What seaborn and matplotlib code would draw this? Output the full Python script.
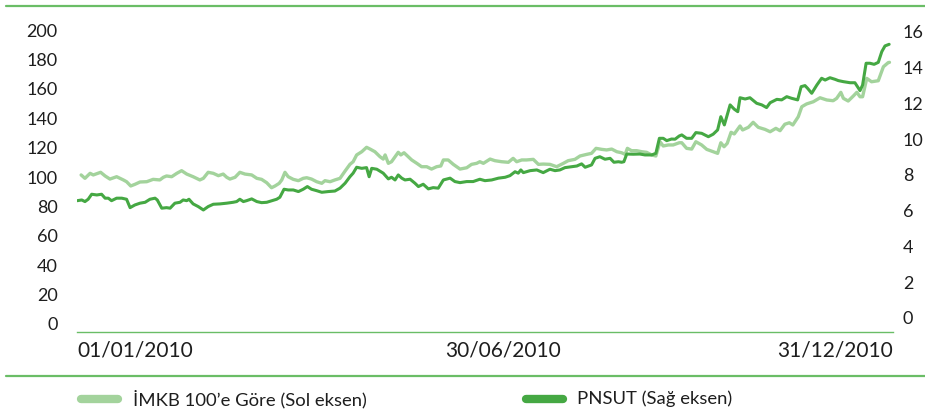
import numpy as np
import pandas as pd
import matplotlib.pyplot as plt
import matplotlib.transforms as mtransforms
from matplotlib.lines import Line2D
import seaborn as sns

# ── Data (gün indeksi, 0 = 01/01/2010, 255 = 31/12/2010) ──────
imkb_gun = [1.3, 2.5, 4.1, 5.1, 7.4, 8.8, 10.3, 12.4, 14.5, 15.5, 16.8, 18.1, 19.7,
            21.8, 23.8, 25.9, 27.0, 28.0, 29.6, 31.2, 32.7, 34.3, 36.3, 38.4, 39.5,
            41.0, 42.6, 44.2, 45.7, 46.8, 47.8, 49.4, 50.9, 52.5, 54.6, 56.2, 57.7,
            59.3, 60.8, 61.9, 63.2, 64.0, 65.0, 66.0, 67.6, 69.2, 70.7, 71.8, 73.3,
            74.9, 76.5, 77.5, 79.1, 80.6, 82.2, 83.8, 85.3, 86.3, 87.4, 89.0, 90.5,
            91.6, 93.1, 94.7, 95.7, 96.3, 97.3, 98.3, 99.4, 100.4, 101.2, 102.2,
            103.5, 104.6, 106.2, 107.7, 109.3, 110.8, 112.4, 113.7, 114.5, 116.0,
            117.6, 119.7, 121.8, 123.3, 124.9, 125.9, 127.0, 129.1, 130.6, 132.7,
            134.8, 136.3, 137.4, 139.0, 140.5, 142.6, 144.2, 145.7, 147.8, 149.9,
            152.0, 153.5, 155.6, 157.2, 159.3, 160.8, 162.2, 164.0, 165.5, 167.1,
            168.7, 170.2, 171.3, 172.0, 173.3, 174.9, 176.5, 178.0, 179.6, 180.9,
            182.2, 183.2, 184.8, 186.3, 188.2, 189.0, 190.5, 192.1, 193.4, 195.2,
            196.8, 198.8, 200.2, 201.2, 202.2, 203.2, 204.4, 205.4, 207.2, 208.0,
            209.8, 211.3, 212.9, 215.0, 216.6, 218.4, 219.7, 221.2, 222.6, 223.7,
            225.4, 226.5, 228.0, 230.1, 232.2, 234.3, 236.3, 237.4, 238.7, 239.5,
            241.0, 242.6, 243.7, 244.7, 245.5, 246.8, 248.3, 250.4, 252.0, 253.5,
            253.9]
imkb_deger = [101.4, 99.1, 102.5, 101.4, 103.2, 100.7, 98.6, 100.2, 98.0, 96.8, 93.9,
              95.0, 96.6, 96.8, 98.4, 98.0, 99.8, 100.7, 100.2, 102.5, 104.3, 102.0,
              100.2, 98.0, 99.1, 103.2, 102.5, 100.9, 102.0, 99.8, 98.6, 99.8, 103.2,
              102.0, 101.4, 99.1, 98.4, 96.1, 92.7, 93.9, 95.7, 98.0, 103.2, 100.2,
              98.4, 97.5, 99.1, 99.5, 98.6, 96.8, 95.7, 97.5, 96.8, 98.0, 99.1, 104.1,
              108.6, 110.4, 115.0, 117.2, 120.2, 119.0, 117.2, 113.8, 112.2, 115.0,
              109.3, 110.4, 113.8, 116.8, 115.0, 116.5, 113.8, 111.6, 109.3, 107.0,
              107.0, 105.4, 107.0, 107.5, 111.6, 111.6, 108.6, 105.4, 106.3, 108.6,
              109.3, 110.4, 109.3, 112.2, 111.1, 110.4, 110.0, 112.7, 110.4, 111.6,
              111.6, 112.0, 108.6, 108.8, 108.6, 107.0, 109.3, 111.1, 112.0, 114.3,
              115.4, 116.1, 119.5, 118.8, 118.4, 119.0, 117.2, 116.5, 115.4, 119.5,
              117.9, 117.9, 117.2, 116.8, 115.0, 114.3, 124.0, 121.1, 121.8, 121.8,
              123.3, 123.3, 119.5, 119.0, 124.0, 121.8, 118.8, 117.2, 116.1, 123.3,
              120.6, 122.9, 130.4, 129.3, 134.7, 132.0, 133.8, 137.2, 133.8, 132.4,
              130.8, 133.1, 131.5, 135.9, 136.9, 135.4, 141.0, 147.8, 149.7, 151.2,
              153.9, 152.4, 151.9, 153.5, 157.6, 153.5, 151.7, 155.1, 157.6, 154.6,
              154.6, 167.1, 164.8, 165.5, 175.0, 177.8, 178.0]

pnsut_gun = [0.1, 1.5, 2.5, 3.5, 4.6, 6.2, 7.7, 8.8, 9.8, 10.8, 12.4, 14.0, 15.5,
             16.6, 18.1, 19.7, 21.3, 22.8, 24.4, 25.1, 26.5, 28.0, 29.1, 30.6, 32.2,
             33.2, 34.3, 35.0, 36.3, 37.9, 39.5, 41.0, 42.6, 44.7, 46.8, 48.8, 49.9,
             50.9, 52.0, 53.0, 54.6, 56.2, 57.7, 59.3, 60.8, 62.4, 63.4, 64.7, 66.0,
             67.6, 69.2, 70.7, 72.0, 73.3, 74.9, 76.5, 78.5, 80.6, 82.2, 83.8, 85.3,
             86.3, 87.4, 89.0, 90.5, 91.3, 92.1, 93.7, 95.7, 97.3, 98.3, 99.4, 100.4,
             101.5, 102.5, 104.1, 105.6, 106.7, 108.2, 109.8, 111.3, 112.9, 114.5,
             116.6, 118.1, 119.7, 121.8, 123.8, 125.9, 127.5, 129.6, 131.7, 133.8,
             135.3, 136.9, 137.9, 138.7, 139.5, 141.6, 143.7, 145.7, 147.8, 149.4,
             150.9, 152.5, 154.6, 156.2, 157.7, 158.8, 160.8, 161.9, 163.4, 165.0,
             166.6, 167.8, 169.2, 170.2, 170.9, 171.8, 173.8, 175.9, 177.5, 179.6,
             180.9, 182.0, 183.2, 184.3, 185.8, 186.9, 188.2, 189.0, 190.5, 192.1,
             193.4, 195.2, 197.3, 198.8, 200.2, 201.2, 202.3, 204.1, 205.4, 206.5,
             207.2, 208.8, 210.3, 212.4, 214.0, 215.5, 216.6, 218.7, 220.2, 221.8,
             223.3, 225.2, 226.3, 227.5, 228.3, 229.6, 231.2, 232.7, 233.8, 235.3,
             236.9, 237.9, 239.5, 241.6, 243.1, 244.7, 245.5, 246.6, 247.8, 249.1,
             250.4, 251.5, 252.5, 253.8]
pnsut_deger = [6.56, 6.60, 6.51, 6.64, 6.92, 6.88, 6.92, 6.70, 6.70, 6.56, 6.70, 6.70,
               6.64, 6.17, 6.32, 6.42, 6.47, 6.64, 6.70, 6.60, 6.14, 6.17, 6.14, 6.42,
               6.47, 6.60, 6.56, 6.64, 6.38, 6.23, 6.04, 6.23, 6.36, 6.38, 6.42, 6.47,
               6.51, 6.64, 6.51, 6.56, 6.66, 6.51, 6.45, 6.47, 6.55, 6.64, 6.75, 7.20,
               7.16, 7.16, 7.07, 7.20, 7.35, 7.20, 7.12, 7.03, 7.07, 7.10, 7.26, 7.54,
               7.90, 8.10, 8.43, 8.37, 8.41, 7.90, 8.37, 8.32, 8.10, 7.78, 7.87, 7.72,
               8.00, 7.82, 7.72, 7.76, 7.54, 7.35, 7.48, 7.22, 7.29, 7.26, 7.72, 7.82,
               7.63, 7.57, 7.63, 7.63, 7.76, 7.68, 7.72, 7.82, 7.87, 7.96, 8.18, 8.10,
               8.28, 8.13, 8.24, 8.28, 8.13, 8.32, 8.24, 8.28, 8.41, 8.46, 8.50, 8.62,
               8.43, 8.56, 8.93, 9.02, 8.88, 8.93, 8.71, 8.74, 8.71, 8.74, 9.17, 9.16,
               9.17, 9.12, 9.12, 9.21, 10.05, 10.05, 9.92, 10.01, 10.00, 10.18, 10.24,
               10.05, 10.05, 10.37, 10.33, 10.14, 10.28, 10.52, 11.26, 10.80, 11.92,
               11.68, 11.54, 12.32, 12.25, 12.32, 12.01, 11.92, 11.77, 12.04, 12.23,
               12.20, 12.38, 12.29, 12.20, 12.94, 13.00, 12.85, 12.57, 13.03, 13.41,
               13.31, 13.44, 13.35, 13.28, 13.22, 13.16, 13.16, 12.72, 13.03, 14.25,
               14.25, 14.19, 14.30, 14.90, 15.22, 15.31]

x_tick_pos = [0, 133, 255]
x_tick_labels = ['01/01/2010', '30/06/2010', '31/12/2010']
sol_ticks = list(range(0, 201, 20))
sag_ticks = list(range(0, 17, 2))
seri_adlari = ["İMKB 100’e Göre (Sol eksen)", "PNSUT (Sağ eksen)"]

# ── Style ────────────────────────────────────────────────────
sns.set_theme(style="white")
plt.rcParams['font.family'] = ['Lato', 'DejaVu Sans']

ACIK = '#a3d39c'
KOYU = '#45a843'
CIZGI = '#6abd66'
YAZI = '#1e1e1e'

imkb = pd.DataFrame({'gun': imkb_gun, 'deger': imkb_deger})
pnsut = pd.DataFrame({'gun': pnsut_gun, 'deger': pnsut_deger})

fig = plt.figure(figsize=(9.25, 4.18), dpi=100)
ax = fig.add_axes([0.0832, 0.2249, 0.8822, 0.7033])
ax2 = ax.twinx()

sns.lineplot(data=imkb, x='gun', y='deger', ax=ax, color=ACIK, linewidth=2.4)
sns.lineplot(data=pnsut, x='gun', y='deger', ax=ax2, color=KOYU, linewidth=2.2)

ax.set_xlim(0, 255)
ax.set_ylim(0, 200)
ax2.set_ylim(-0.34, 16.11)
ax.set_yticks(sol_ticks)
ax2.set_yticks(sag_ticks)
ax.set_xlabel('')
ax.set_ylabel('')
ax2.set_ylabel('')

for a in (ax, ax2):
    for s in ('top', 'left', 'right'):
        a.spines[s].set_visible(False)
ax2.spines['bottom'].set_visible(False)
ax.spines['bottom'].set_position(('outward', 5.8))
ax.spines['bottom'].set_color(CIZGI)
ax.spines['bottom'].set_linewidth(1.0)

ax.set_xticks(x_tick_pos)
ax.set_xticklabels(x_tick_labels)
# first label a bit left of its tick, last label a bit right (as in the original)
for lbl, ha, dx in zip(ax.get_xticklabels(), ['left', 'center', 'right'], [-9, -3, 4]):
    lbl.set_horizontalalignment(ha)
    lbl.set_transform(lbl.get_transform() +
                      mtransforms.ScaledTranslation(dx / 100, 0, fig.dpi_scale_trans))
ax.tick_params(axis='x', direction='in', length=6, width=1.0, color=CIZGI,
               labelsize=15, labelcolor=YAZI, pad=6)
ax.tick_params(axis='y', length=0, labelsize=13, labelcolor=YAZI, pad=14)
ax2.tick_params(axis='y', length=0, labelsize=13, labelcolor=YAZI, pad=7)

# ust ve alt ayirici cizgiler
fig.add_artist(Line2D([0.0065, 1.0], [0.9868, 0.9868], color=CIZGI, linewidth=1.6))
fig.add_artist(Line2D([0.0065, 1.0], [0.1005, 0.1005], color=CIZGI, linewidth=1.6))

# legend
leg_y = 0.0455
for (x0, x1, tx), renk, ad in zip([(0.0832, 0.1319, 0.1438), (0.5643, 0.6130, 0.6238)],
                                  [ACIK, KOYU], seri_adlari):
    fig.add_artist(Line2D([x0 + 0.004, x1 - 0.004], [leg_y, leg_y], color=renk,
                          linewidth=6, solid_capstyle='round'))
    fig.text(tx, leg_y, ad, fontsize=13.3, color=YAZI, va='center', ha='left')

plt.savefig('out.png', dpi=100)
